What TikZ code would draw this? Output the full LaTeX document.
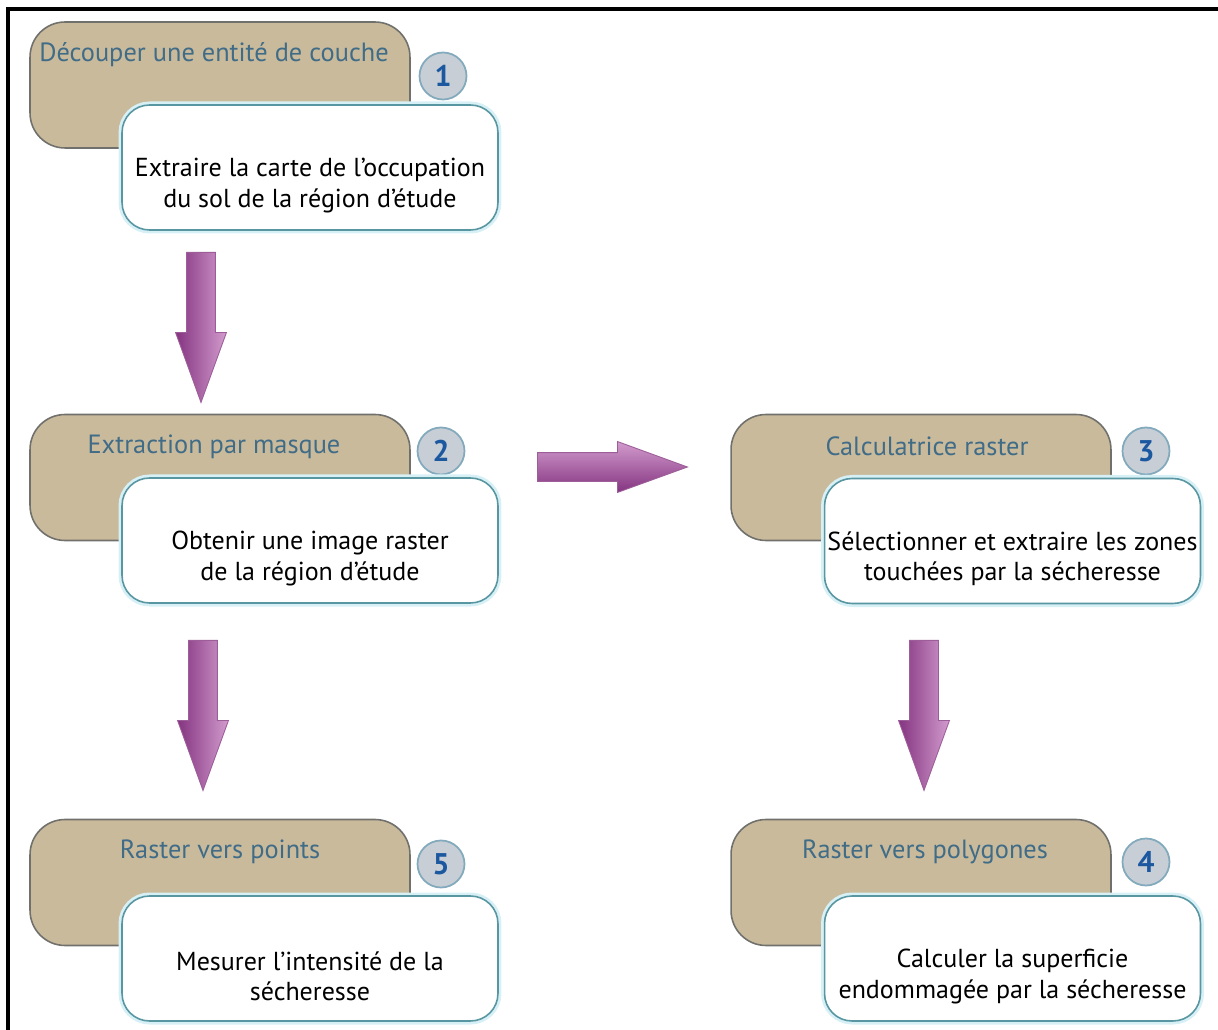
\documentclass[tikz,border=0pt]{standalone}
\usepackage{fontspec}
\setmainfont{PT Sans}
\usepackage{tikz}
\usetikzlibrary{arrows.meta,positioning,shapes.arrows}

\definecolor{tanfill}{RGB}{201,186,156}
\definecolor{tanline}{RGB}{112,112,108}
\definecolor{titleblue}{RGB}{64,108,135}
\definecolor{tealline}{RGB}{88,150,162}
\definecolor{glow}{RGB}{215,240,246}
\definecolor{circfill}{RGB}{200,206,213}
\definecolor{circline}{RGB}{130,170,188}
\definecolor{numblue}{RGB}{28,88,160}
\definecolor{arrdark}{RGB}{132,52,128}
\definecolor{arrlight}{RGB}{210,155,205}

\begin{document}
\begin{tikzpicture}[
  x=0.02cm, y=-0.02cm,
  tanbox/.style={draw=tanline, fill=tanfill, line width=0.9pt, rounded corners=0.7cm,
                 minimum width=7.6cm, minimum height=2.52cm},
  title/.style={text=titleblue, font=\fontsize{15}{18}\selectfont},
  whitebox/.style={draw=tealline, fill=white, line width=0.9pt, rounded corners=0.55cm,
                   minimum width=7.52cm, minimum height=2.5cm,
                   preaction={draw=glow, line width=4pt}},
  body/.style={align=center, font=\fontsize{14.8}{17.2}\selectfont},
  num/.style={circle, draw=circline, fill=circfill, line width=1pt, minimum size=0.94cm,
              inner sep=0pt, text=numblue, font=\fontsize{17}{17}\selectfont\bfseries},
  bigarr/.style={single arrow, minimum height=3cm, minimum width=1cm,
                 single arrow head extend=0.22cm, single arrow tip angle=40,
                 inner xsep=0pt, inner ysep=0.28cm, anchor=tail,
                 draw=arrdark!80, line width=0.5pt},
  downarr/.style={bigarr, rotate=-90, left color=arrdark, right color=arrlight},
  rightarr/.style={bigarr, top color=arrlight, bottom color=arrdark}
]
  \useasboundingbox (0,0) rectangle (1218,1030);
  \draw[line width=1.8pt] (8,1040) -- (8,9) -- (1230,9);

  % etape 1
  \node[tanbox] (t1) at (220,85) {};
  \node[title] (h1) at ([xshift=-0.12cm,yshift=-0.66cm]t1.north) {Découper une entité de couche};
  \node[num] (n1) at (443,76) {1};
  \node[whitebox] (w1) at (310,167.5) {};
  \node[body] (b1) at ([yshift=-0.36cm]w1.center) {Extraire la carte de l’occupation\\du sol de la région d’étude};

  % etape 2
  \node[tanbox] (t2) at (220,477.5) {};
  \node[title] (h2) at ([xshift=-0.12cm,yshift=-0.66cm]t2.north) {Extraction par masque};
  \node[num] (n2) at (441,451) {2};
  \node[whitebox] (w2) at (310,540.5) {};
  \node[body] (b2) at ([yshift=-0.36cm]w2.center) {Obtenir une image raster\\de la région d’étude};

  % etape 3
  \node[tanbox] (t3) at (921,477.5) {};
  \node[title] (h3) at ([xshift=0.12cm,yshift=-0.66cm]t3.north) {Calculatrice raster};
  \node[num] (n3) at (1146,451) {3};
  \node[whitebox] (w3) at (1012.5,541) {};
  \node[body] (b3) at ([yshift=-0.36cm]w3.center) {Sélectionner et extraire les zones\\touchées par la sécheresse};

  % etape 4
  \node[tanbox] (t4) at (921,882.5) {};
  \node[title] (h4) at ([xshift=0.08cm,yshift=-0.66cm]t4.north) {Raster vers polygones};
  \node[num] (n4) at (1146,862) {4};
  \node[whitebox] (w4) at (1012.5,958.5) {};
  \node[body] (b4) at ([yshift=-0.36cm]w4.center) {Calculer la superficie\\endommagée par la sécheresse};

  % etape 5
  \node[tanbox] (t5) at (220,882.5) {};
  \node[title] (h5) at ([yshift=-0.66cm]t5.north) {Raster vers points};
  \node[num] (n5) at (441,864) {5};
  \node[whitebox] (w5) at (310,958.5) {};
  \node[body] (b5) at ([yshift=-0.36cm]w5.center) {Mesurer l’intensité de la\\sécheresse};

  % fleches
  \node[downarr] (a12) at (201,252) {};
  \node[rightarr] (a23) at (537,467) {};
  \node[downarr] (a25) at (203,640) {};
  \node[downarr] (a34) at (924,640) {};
\end{tikzpicture}
\end{document}
